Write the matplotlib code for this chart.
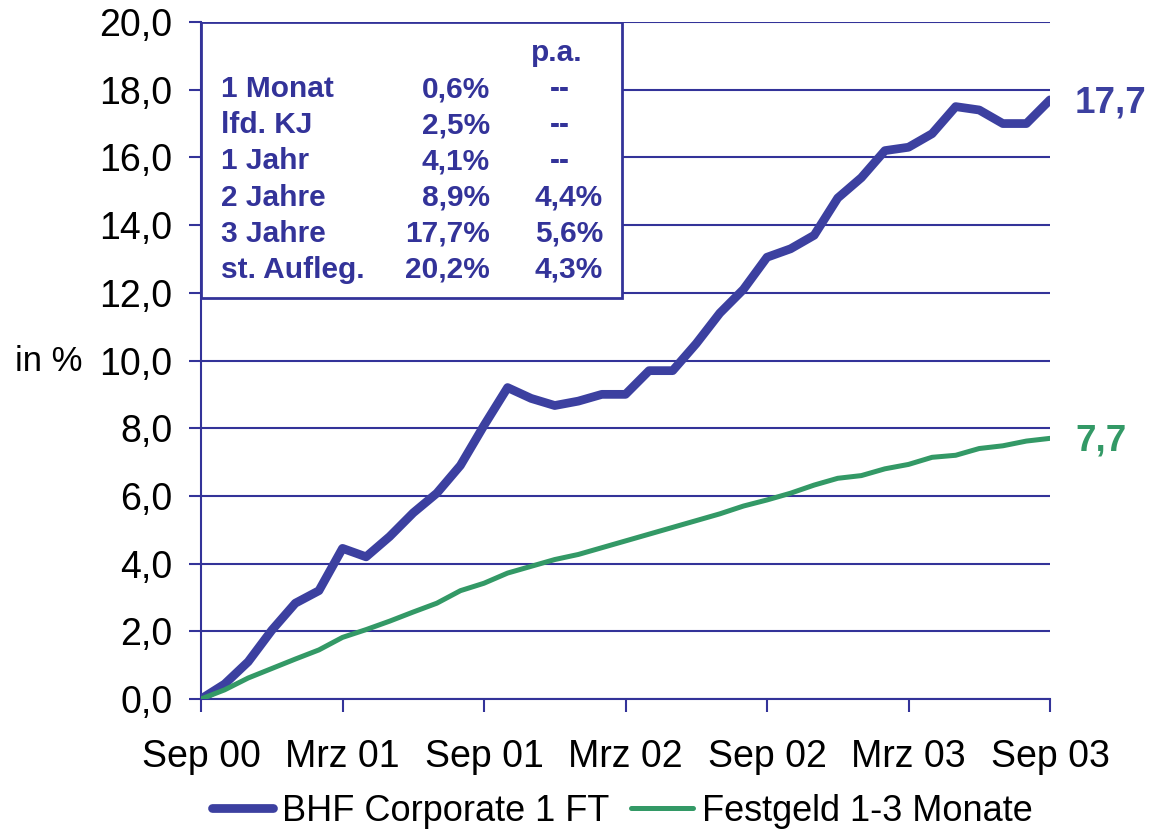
import numpy as np
import matplotlib
matplotlib.use("Agg")
import matplotlib.pyplot as plt
from matplotlib.patches import Rectangle

plt.rcParams['font.family'] = ['Liberation Sans', 'DejaVu Sans']

# monthly cumulative performance in %, Sep 00 .. Sep 03
bhf = [0.0, 0.44, 1.1, 2.03, 2.83, 3.2, 4.45, 4.2, 4.8, 5.5, 6.08, 6.9, 8.08,
       9.2, 8.88, 8.67, 8.8, 9.0, 9.0, 9.7, 9.7, 10.5, 11.4, 12.1, 13.05,
       13.3, 13.7, 14.8, 15.4, 16.2, 16.3, 16.7, 17.5, 17.4, 17.0, 17.0, 17.7]
festgeld = [0.0, 0.27, 0.62, 0.9, 1.18, 1.45, 1.82, 2.05, 2.3, 2.57, 2.83, 3.2,
            3.42, 3.72, 3.92, 4.12, 4.27, 4.47, 4.67, 4.87, 5.07, 5.27, 5.47,
            5.7, 5.88, 6.08, 6.32, 6.52, 6.6, 6.8, 6.93, 7.14, 7.2, 7.4, 7.48,
            7.62, 7.7]
series_names = ["BHF Corporate 1 FT", "Festgeld 1-3 Monate"]
xtick_labels = ["Sep 00", "Mrz 01", "Sep 01", "Mrz 02", "Sep 02", "Mrz 03", "Sep 03"]
yticks = [0, 2, 4, 6, 8, 10, 12, 14, 16, 18, 20]

# performance table
tab_labels = ["1 Monat", "lfd. KJ", "1 Jahr", "2 Jahre", "3 Jahre", "st. Aufleg."]
tab_total = ["0,6%", "2,5%", "4,1%", "8,9%", "17,7%", "20,2%"]
tab_pa = ["--", "--", "--", "4,4%", "5,6%", "4,3%"]

navy = "#333399"
blue = "#3c40a0"
green = "#339966"

L, R, T, B = 201, 1050, 22, 699
W, H = R - L, B - T
fig = plt.figure(figsize=(11.49, 8.33), dpi=100)
ax = fig.add_axes([L/1149, 1-B/833, W/1149, H/833])

x = np.arange(len(bhf))
ax.plot(x, bhf, color=blue, lw=6.3, solid_capstyle='round', solid_joinstyle='round',
        label=series_names[0], zorder=4)
ax.plot(x, festgeld, color=green, lw=3.6, solid_capstyle='round', solid_joinstyle='round',
        label=series_names[1], zorder=4)

ax.set_xlim(0, 36)
ax.set_ylim(0, 20)
ax.set_xticks(np.arange(0, 37, 6))
ax.set_xticklabels(xtick_labels)
ax.set_yticks(yticks)
ax.set_yticklabels([f"{v:.1f}".replace('.', ',') for v in yticks])
ax.yaxis.grid(True, color=navy, lw=1.5)
ax.set_axisbelow(True)
for s in ['top', 'right']:
    ax.spines[s].set_visible(False)
for s in ['left', 'bottom']:
    ax.spines[s].set_color(navy)
    ax.spines[s].set_linewidth(1.5)
ax.tick_params(axis='x', direction='out', length=9, width=1.5, color=navy,
               labelsize=27, pad=20)
ax.tick_params(axis='y', direction='out', length=8.5, width=1.5, color=navy,
               labelsize=27, pad=12)

fig.text(15/1149, 1-362/833, "in %", fontsize=25, ha='left', va='center')

# end labels
for vals, col in [(bhf, blue), (festgeld, green)]:
    ax.annotate(f"{vals[-1]:.1f}".replace('.', ','), xy=(36, vals[-1]),
                xytext=(18, -2), textcoords='offset points', ha='left', va='center',
                fontsize=26.5, fontweight='bold', color=col, annotation_clip=False)

# table box
box = Rectangle((0, 1-276/H), 421/W, 276/H, transform=ax.transAxes,
                facecolor='white', edgecolor=navy, lw=2, zorder=5)
ax.add_patch(box)
def ax_x(px):
    return (px - L) / W
def ax_y(py):
    return (B - py) / H
tk = dict(transform=ax.transAxes, fontsize=21.5, fontweight='bold', color=navy,
          va='center', zorder=6)
ax.text(ax_x(557), ax_y(53), "p.a.", ha='center', **tk)
for i, (lab, tot, pa) in enumerate(zip(tab_labels, tab_total, tab_pa)):
    yy = ax_y(89 + 36.2*i)
    ax.text(ax_x(221), yy, lab, ha='left', **tk)
    ax.text(ax_x(490), yy, tot, ha='right', **tk)
    if pa == "--":
        ax.text(ax_x(560), yy, pa, ha='center', **tk)
    else:
        ax.text(ax_x(603), yy, pa, ha='right', **tk)

ax.legend(loc='center', bbox_to_anchor=(0.496, -0.166), ncol=2, frameon=False,
          fontsize=26, handlelength=1.7, handletextpad=0.25, columnspacing=0.6)

fig.savefig("out.png", dpi=100)
